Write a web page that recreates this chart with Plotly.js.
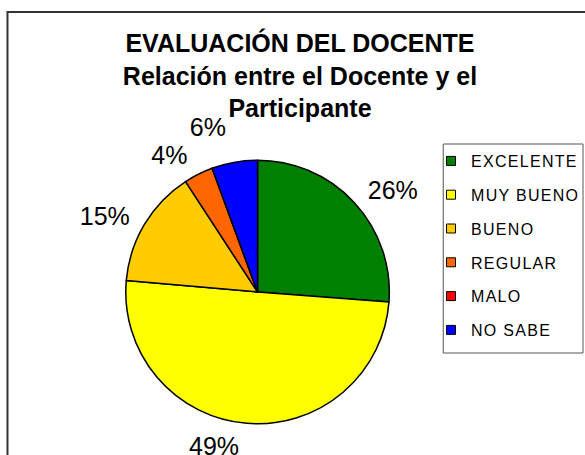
<!DOCTYPE html>
<html>
<head>
<meta charset="utf-8">
<script src="https://cdn.plot.ly/plotly-3.0.1.min.js"></script>
<style>
  html, body { margin: 0; padding: 0; background: #fff; }
  #chart { width: 585px; height: 455px; }
  .legendtext { letter-spacing: 1.3px; }
  path.textline { stroke-opacity: 0 !important; stroke-width: 0 !important; }
</style>
</head>
<body>
<div id="chart"></div>
<script>
// Data
const categories = ['EXCELENTE', 'MUY BUENO', 'BUENO', 'REGULAR', 'MALO', 'NO SABE'];
const values = [26.2, 50.2, 14.4, 3.6, 0, 5.6];
const percentLabels = ['26%', '49%', '15%', '4%', '', '6%'];
const sliceColors = ['#008000', '#FFFF00', '#FFCC00', '#FF6600', '#FF0000', '#0000FF'];
const titleLines = ['EVALUACIÓN DEL DOCENTE', 'Relación entre el Docente y el', 'Participante'];

const W = 585, H = 455;
const font = 'Arial, "Liberation Sans", sans-serif';
const cx = 258, cy = 292, R = 132, RL = 141;

function domainFor(r) {
  return { x: [(cx - r) / W, (cx + r) / W], y: [(H - cy - r) / H, (H - cy + r) / H] };
}

// the visible pie
const pie = {
  type: 'pie',
  labels: categories,
  values: values,
  textinfo: 'none',
  sort: false,
  direction: 'clockwise',
  rotation: 0,
  marker: { colors: sliceColors, line: { color: '#000', width: 1.5 } },
  domain: domainFor(R),
  showlegend: false,
  hoverinfo: 'none'
};

// transparent companion pie (same data) carrying the percent labels a bit further out
const labelPie = {
  type: 'pie',
  labels: categories,
  values: values,
  text: percentLabels,
  textinfo: 'text',
  textposition: 'outside',
  outsidetextfont: { family: font, size: 25, color: '#000' },
  sort: false,
  direction: 'clockwise',
  rotation: 0,
  marker: { colors: categories.map(() => 'rgba(0,0,0,0)'), line: { width: 0 } },
  domain: domainFor(RL),
  showlegend: false,
  hoverinfo: 'none'
};

// legend entries (one per category, same colours as the slices)
const legendTraces = categories.map((c, i) => ({
  type: 'scatter',
  mode: 'markers',
  x: [null], y: [null],
  name: c,
  legendgroup: c,
  marker: { symbol: 'square', size: 9, color: sliceColors[i], line: { color: '#000', width: 1 } },
  hoverinfo: 'none'
}));

const layout = {
  width: W, height: H,
  margin: { l: 0, r: 0, t: 0, b: 0 },
  paper_bgcolor: '#fff',
  plot_bgcolor: '#fff',
  font: { family: font, color: '#000' },
  title: {
    text: '<b>' + titleLines.join('<br>') + '</b>',
    font: { family: font, size: 25, color: '#000' },
    x: 300 / W, xanchor: 'center',
    y: 1 - 52 / H, yanchor: 'top'
  },
  xaxis: { visible: false },
  yaxis: { visible: false },
  showlegend: true,
  legend: {
    x: 432 / W, xanchor: 'left',
    y: (H - 144) / H, yanchor: 'top',
    bgcolor: 'rgba(0,0,0,0)',
    borderwidth: 0,
    tracegroupgap: 10,
    font: { family: font, size: 16, color: '#000' }
  },
  shapes: [
    { type: 'rect', xref: 'paper', yref: 'paper', x0: 7.5 / W, x1: 1.05, y0: -0.05, y1: (H - 12) / H,
      line: { color: '#333', width: 2 } },
    { type: 'rect', xref: 'paper', yref: 'paper', x0: 444 / W, x1: 584 / W, y0: (H - 353) / H, y1: (H - 144) / H,
      line: { color: '#555', width: 1 } }
  ]
};

Plotly.newPlot('chart', [pie, labelPie].concat(legendTraces), layout, { displayModeBar: false, staticPlot: true });
</script>
</body>
</html>
